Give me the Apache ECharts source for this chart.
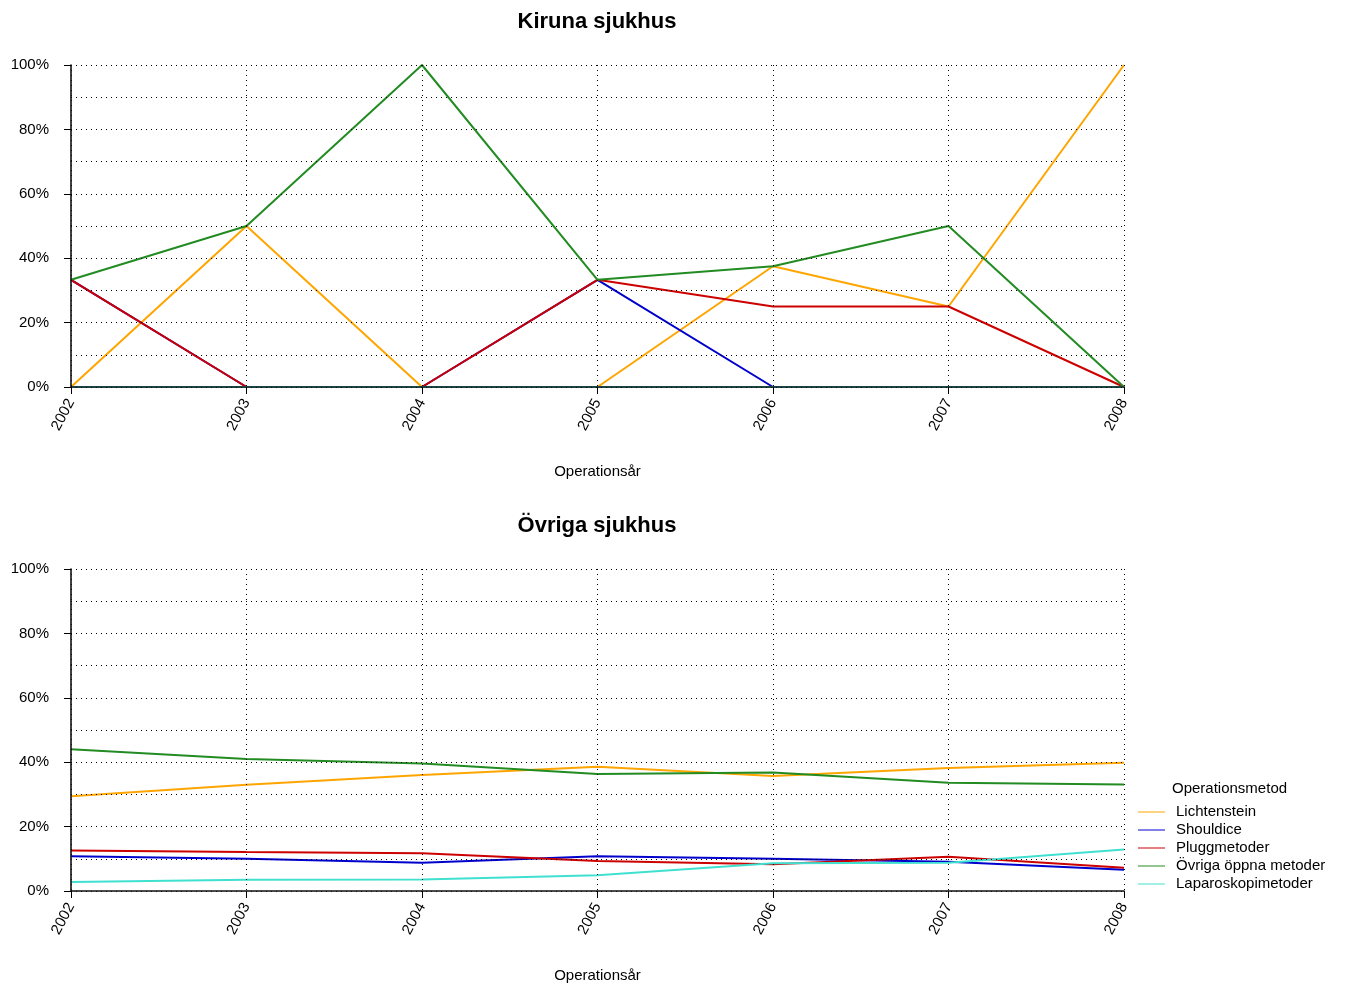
<!DOCTYPE html>
<html><head><meta charset="utf-8">
<script src="https://cdn.jsdelivr.net/npm/echarts@6/dist/echarts.min.js"></script>
<style>html,body{margin:0;padding:0;background:#fff}#c{width:1348px;height:987px}</style>
</head><body><div id="c"></div>
<script>
const years = ['2002','2003','2004','2005','2006','2007','2008'];
const methods = ['Lichtenstein','Shouldice','Pluggmetoder','Övriga öppna metoder','Laparoskopimetoder'];
const colors = ['#FFA500','#0000CD','#CD0000','#228B22','#40E0D0'];
const yTicks = ['0%','20%','40%','60%','80%','100%'];
// Kiruna sjukhus (%)
const kirunaLichtenstein = [0, 50, 0, 0, 37.5, 25, 100];
const kirunaShouldice = [33.3, 0, 0, 33.3, 0, 0, 0];
const kirunaPlugg = [33.3, 0, 0, 33.3, 25, 25, 0];
const kirunaOvriga = [33.3, 50, 100, 33.3, 37.5, 50, 0];
const kirunaLaparo = [0, 0, 0, 0, 0, 0, 0];
// Övriga sjukhus (%)
const ovrigaLichtenstein = [29.4, 33.0, 36.0, 38.6, 35.7, 38.2, 39.8];
const ovrigaShouldice = [10.8, 10.0, 8.8, 10.8, 10.0, 9.1, 6.6];
const ovrigaPlugg = [12.6, 12.1, 11.7, 9.3, 8.3, 10.6, 7.2];
const ovrigaOvriga = [44.0, 41.0, 39.6, 36.3, 36.8, 33.6, 33.1];
const ovrigaLaparo = [2.8, 3.5, 3.6, 4.9, 8.6, 8.8, 12.9];

const kiruna = [kirunaLichtenstein, kirunaShouldice, kirunaPlugg, kirunaOvriga, kirunaLaparo];
const ovriga = [ovrigaLichtenstein, ovrigaShouldice, ovrigaPlugg, ovrigaOvriga, ovrigaLaparo];

const FONT = 'Liberation Sans, Arial, sans-serif';
const dotted = {show:true, lineStyle:{color:'#000', type:[1,4], width:1}};

function xAx(i){
  return {type:'category', gridIndex:i, data:years, boundaryGap:false, z:5,
    axisLine:{show:true, lineStyle:{color:'#111', width:1.6}},
    axisTick:{show:true, length:7, lineStyle:{color:'#000'}},
    axisLabel:{rotate:62, color:'#000', fontSize:15, fontFamily:FONT, margin:13},
    splitLine:dotted,
    name:'Operationsår', nameLocation:'middle', nameGap:77,
    nameTextStyle:{color:'#000', fontSize:15, fontFamily:FONT}};
}
function yAx(i){
  return {type:'value', gridIndex:i, min:0, max:100, interval:20, z:5,
    axisLine:{show:true, lineStyle:{color:'#111', width:1.6}},
    axisTick:{show:true, length:7, lineStyle:{color:'#000'}},
    axisLabel:{color:'#000', fontSize:15, fontFamily:FONT, margin:22, padding:[3,0,0,0],
      formatter:(v)=>yTicks[Math.round(v/20)]},
    splitLine:dotted,
    minorTick:{show:false, splitNumber:2},
    minorSplitLine:dotted};
}
const series = [];
methods.forEach((m,k)=>{
  series.push({name:m, type:'line', xAxisIndex:0, yAxisIndex:0, data:kiruna[k], z:2,
    showSymbol:false, symbol:'none', lineStyle:{width:2, color:colors[k]}, itemStyle:{color:colors[k]}, animation:false});
  series.push({name:m, type:'line', xAxisIndex:1, yAxisIndex:1, data:ovriga[k], z:2,
    showSymbol:false, symbol:'none', lineStyle:{width:2, color:colors[k]}, itemStyle:{color:colors[k]}, animation:false});
});

const chart = echarts.init(document.getElementById('c'));
chart.setOption({
  animation:false,
  backgroundColor:'#fff',
  title:[
    {text:'Kiruna sjukhus', left:592, top:6, textAlign:'center', textStyle:{fontSize:22, fontWeight:'bold', color:'#000', fontFamily:FONT}},
    {text:'Övriga sjukhus', left:592, top:510, textAlign:'center', textStyle:{fontSize:22, fontWeight:'bold', color:'#000', fontFamily:FONT}}
  ],
  grid:[
    {left:71, top:65, width:1053, height:322},
    {left:71, top:569, width:1053, height:322}
  ],
  xAxis:[xAx(0), xAx(1)],
  yAxis:[yAx(0), yAx(1)],
  legend:{orient:'vertical', left:1138, top:804, padding:0, itemWidth:27, itemHeight:1, itemGap:2,
    icon:'rect', data:methods,
    textStyle:{fontSize:15, fontFamily:FONT, color:'#000', padding:[0,0,0,6], lineHeight:16}},
  graphic:[{type:'text', left:1172, top:781, style:{text:'Operationsmetod', fontSize:15, fontFamily:FONT, fill:'#000'}}],
  series:series
});
</script></body></html>
